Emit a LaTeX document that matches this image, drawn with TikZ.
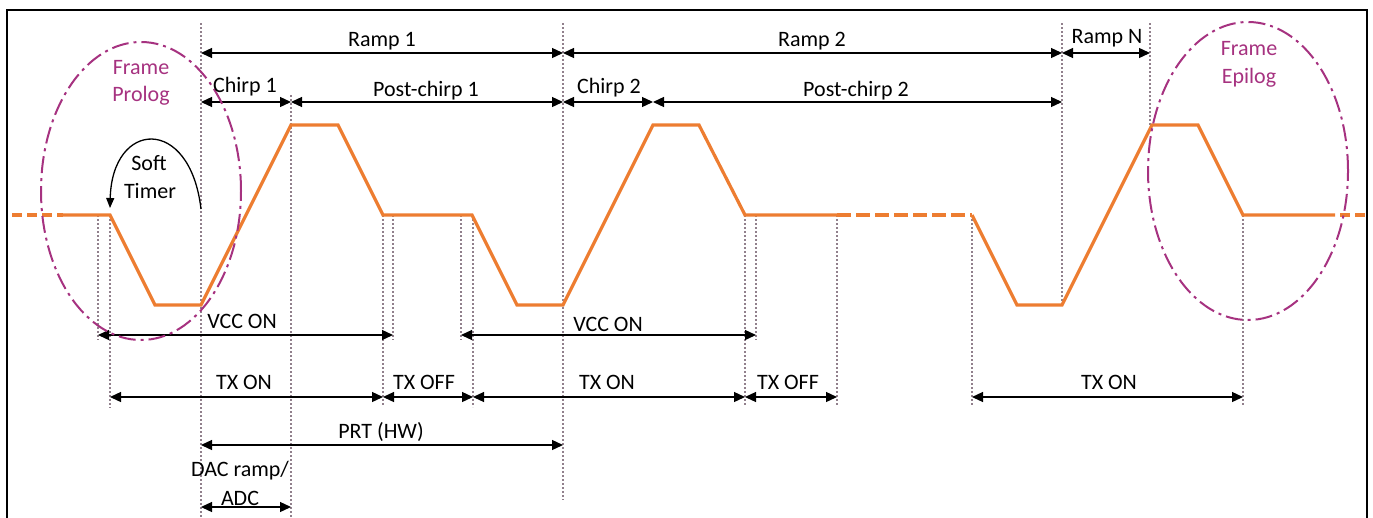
\documentclass[tikz,border=0pt]{standalone}
\usepackage{fontspec}
\setmainfont{Carlito}
\usetikzlibrary{arrows.meta}
\definecolor{wave}{RGB}{237,125,49}
\definecolor{frm}{RGB}{166,50,128}
\definecolor{guide}{RGB}{145,128,140}
\begin{document}
\begin{tikzpicture}[x=1pt,y=-1pt,
  wavel/.style={wave,line width=3.2pt},
  wavedash/.style={wave,line width=3.2pt,dash pattern=on 14pt off 5pt},
  guideline/.style={guide,line width=1.4pt,dash pattern=on 2pt off 2pt},
  dim/.style={{Triangle[length=11pt,width=10pt]}-{Triangle[length=11pt,width=10pt]},line width=1.3pt,black},
  lbl/.style={font=\fontsize{22}{26}\selectfont,anchor=base,inner sep=0pt},
  flbl/.style={lbl,text=frm},
  frameell/.style={frm,line width=2pt,dash pattern=on 17pt off 5pt on 3pt off 5pt}]
\useasboundingbox (0,0) rectangle (1373,517);
% border
\draw[line width=2.2pt] (7,540) -- (7,10) -- (1367,10) -- (1367,540);
% guides
\foreach \x/\a/\b in {98/215/340,110/215/408,201/23/517,291/95/517,383/215/405,393/215/340,
  461/215/340,473/215/407,563/23/500,745/215/405,756/215/340,837/215/405,972/215/405,
  1062/23/305,1150/23/125,1243/215/405}
  \draw[guideline] (\x,\a) -- (\x,\b);
% waveform
\draw[wave,line width=3.2pt,dash pattern=on 10pt off 5pt] (12,215) -- (63,215);
\draw[wavel] (63,215) -- (110,215) -- (155,305) -- (201,305) -- (291,125) -- (338,125) -- (383,215)
  -- (472,215) -- (517,305) -- (563,305) -- (653,125) -- (699,125) -- (745,215) -- (837,215);
\draw[wavedash] (837,215) -- (972,215);
\draw[wavel] (972,215) -- (1017,305) -- (1062,305) -- (1152,125) -- (1198,125) -- (1243,215) -- (1335,215);
\draw[wave,line width=3.2pt,dash pattern=on 10pt off 5pt] (1340,215) -- (1370,215);
% coordinates
\coordinate (r1a) at (201,53); \coordinate (r1b) at (563,53);
\coordinate (r2b) at (1062,53); \coordinate (rNb) at (1150,53);
\coordinate (c1a) at (201,102); \coordinate (c1b) at (291,102);
\coordinate (p1b) at (563,102); \coordinate (c2b) at (653,102);
\coordinate (p2b) at (1062,102);
\coordinate (v1a) at (98,335); \coordinate (v1b) at (393,335);
\coordinate (v2a) at (461,335); \coordinate (v2b) at (756,335);
\coordinate (t1a) at (110,397); \coordinate (t1b) at (383,397);
\coordinate (t2b) at (473,397); \coordinate (t3b) at (745,397);
\coordinate (t4b) at (837,397); \coordinate (t5a) at (972,397); \coordinate (t5b) at (1243,397);
\coordinate (pra) at (201,445); \coordinate (prb) at (563,445);
\coordinate (da) at (201,507); \coordinate (db) at (291,507);
\coordinate (st0) at (201,209); \coordinate (st1) at (110,208);
% dimension arrows
\draw[dim] (r1a) -- (r1b);
\draw[dim] (r1b) -- (r2b);
\draw[dim] (r2b) -- (rNb);
\draw[dim] (c1a) -- (c1b);
\draw[dim] (c1b) -- (p1b);
\draw[dim] (p1b) -- (c2b);
\draw[dim] (c2b) -- (p2b);
\draw[dim] (v1a) -- (v1b);
\draw[dim] (v2a) -- (v2b);
\draw[dim] (t1a) -- (t1b);
\draw[dim] (t1b) -- (t2b);
\draw[dim] (t2b) -- (t3b);
\draw[dim] (t3b) -- (t4b);
\draw[dim] (t5a) -- (t5b);
\draw[dim] (pra) -- (prb);
\draw[dim] (da) -- (db);
% soft timer arrow
\draw[-{Triangle[length=10pt,width=8pt]},line width=1.3pt] (st0) .. controls (190,115) and (112,120) .. (st1);
% frame ellipses
\draw[frameell] (141,191) ellipse [x radius=100pt, y radius=149pt];
\draw[frameell] (1248,171) ellipse [x radius=100pt, y radius=149pt];
% labels
\node[lbl] (lr1) at (382,46) {Ramp 1};
\node[lbl] (lr2) at (812,46) {Ramp 2};
\node[lbl] (lrn) at (1107,43) {Ramp N};
\node[lbl] (lc1) at (245,92) {Chirp 1};
\node[lbl] (lp1) at (426,96) {Post-chirp 1};
\node[lbl] (lc2) at (609,93) {Chirp 2};
\node[lbl] (lp2) at (856,96) {Post-chirp 2};
\node[flbl] (lf1) at (141,74) {Frame};
\node[flbl] (lf2) at (141,101) {Prolog};
\node[flbl] (le1) at (1249,55) {Frame};
\node[flbl] (le2) at (1249,83) {Epilog};
\node[lbl] (ls1) at (149,170) {Soft};
\node[lbl] (ls2) at (150,198) {Timer};
\node[lbl] (lv1) at (242,328) {VCC ON};
\node[lbl] (lv2) at (608,331) {VCC ON};
\node[lbl] (lt1) at (244,389) {TX ON};
\node[lbl] (lt2) at (424,389) {TX OFF};
\node[lbl] (lt3) at (607,389) {TX ON};
\node[lbl] (lt4) at (788,389) {TX OFF};
\node[lbl] (lt5) at (1109,389) {TX ON};
\node[lbl] (lpr) at (381,438) {PRT (HW)};
\node[lbl] (ld1) at (240,476) {DAC ramp/};
\node[lbl] (ld2) at (240,505) {ADC};
\end{tikzpicture}
\end{document}
